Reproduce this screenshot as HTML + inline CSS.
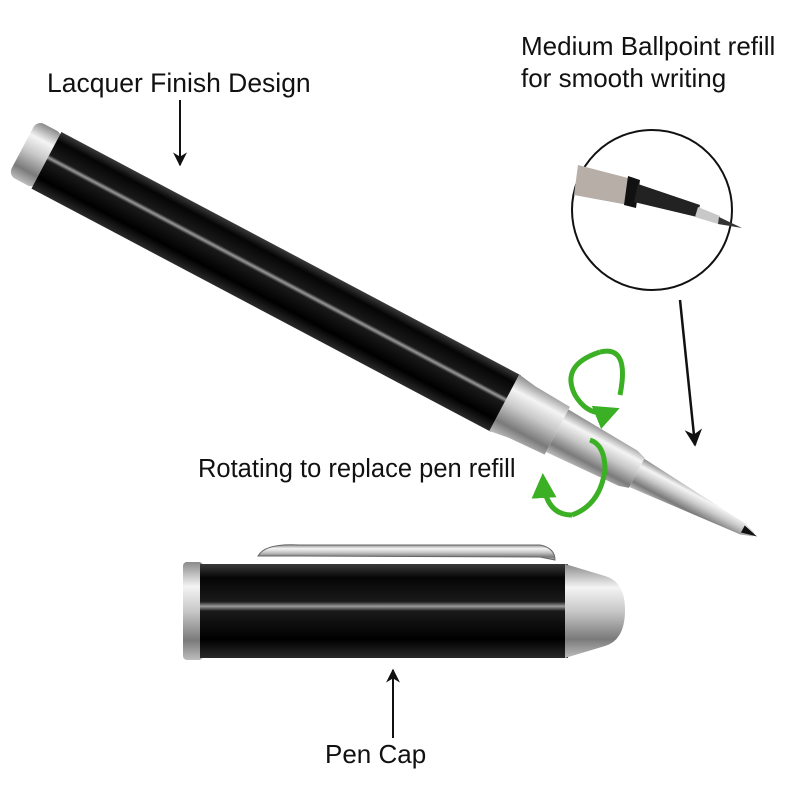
<!DOCTYPE html>
<html><head><meta charset="utf-8"><style>
html,body{margin:0;padding:0;background:#fff;}
svg{display:block;}
text{font-family:"Liberation Sans",Arial,sans-serif;fill:#111;}
</style></head><body>
<svg width="800" height="800" viewBox="0 0 800 800" xmlns="http://www.w3.org/2000/svg">
<defs>
<linearGradient id="blk" x1="0" y1="0" x2="0" y2="1">
<stop offset="0" stop-color="#3a3a3a"/><stop offset="0.15" stop-color="#050505"/>
<stop offset="0.4" stop-color="#1a1a1a"/><stop offset="0.45" stop-color="#9a9a9a"/><stop offset="0.5" stop-color="#1a1a1a"/>
<stop offset="0.8" stop-color="#000"/><stop offset="1" stop-color="#2a2a2a"/></linearGradient>
<linearGradient id="slv" x1="0" y1="0" x2="0" y2="1">
<stop offset="0" stop-color="#8a8a8a"/><stop offset="0.25" stop-color="#f4f4f4"/>
<stop offset="0.5" stop-color="#c8c8c8"/><stop offset="0.8" stop-color="#7a7a7a"/><stop offset="1" stop-color="#bdbdbd"/></linearGradient>
<marker id="ah" viewBox="0 0 10 10" refX="9" refY="5" markerWidth="7" markerHeight="7" orient="auto"><path d="M0,0 L10,5 L0,10 L3,5z" fill="#111"/></marker>
<marker id="gh" viewBox="0 0 10 10" refX="8" refY="5" markerWidth="5" markerHeight="5" orient="auto"><path d="M0,0 L10,5 L0,10z" fill="#3cb024"/></marker>
</defs>

<g transform="translate(27,150) rotate(27.9)">
<rect x="-5" y="-31" width="30" height="62" rx="8" fill="url(#slv)"/>
<rect x="22" y="-32" width="520" height="64" fill="url(#blk)"/>
<path d="M540,-32 L560,-29 L600,-27 L600,27 L560,29 L540,32z" fill="url(#slv)"/>
<path d="M600,-24 L680,-20 L690,-17 L690,17 L680,20 L600,24z" fill="url(#slv)"/>
<path d="M690,-16 L810,-6 L822,-2 L822,2 L810,6 L690,16z" fill="url(#slv)"/>
<path d="M810,-4 L826,0 L810,4z" fill="#111"/>
</g>

<path d="M258,556 Q265,543 300,545 L540,545 Q555,548 555,560 L540,557 L300,556z" fill="url(#slv)" stroke="#666" stroke-width="1"/>
<rect x="183" y="562" width="20" height="98" rx="4" fill="url(#slv)"/>
<rect x="200" y="564" width="368" height="94" fill="url(#blk)"/>
<path d="M565,564 L605,576 Q625,582 625,610 Q625,640 605,646 L565,658z" fill="url(#slv)"/>

<circle cx="652" cy="210" r="80" fill="#fff" stroke="#111" stroke-width="2"/>
<path d="M578,165 L628,178 L628,205 L574,195z" fill="#b7aea8"/>
<path d="M628,176 L640,180 L636,208 L624,205z" fill="#111"/>
<path d="M638,184 L700,205 L697,217 L634,202z" fill="#222"/>
<path d="M698,207 L720,216 L718,224 L695,217z" fill="#c8c8c8"/>
<path d="M719,217 L742,228 L718,224z" fill="#333"/>

<line x1="180" y1="100" x2="180" y2="165" stroke="#111" stroke-width="2" marker-end="url(#ah)"/>
<line x1="680" y1="300" x2="695" y2="445" stroke="#111" stroke-width="2.5" marker-end="url(#ah)"/>
<line x1="393" y1="738" x2="393" y2="670" stroke="#111" stroke-width="2" marker-end="url(#ah)"/>

<path d="M600,352 Q560,365 575,395 Q590,420 615,410" fill="none" stroke="#3cb024" stroke-width="5" marker-end="url(#gh)"/>
<path d="M600,352 Q630,345 620,395" fill="none" stroke="#3cb024" stroke-width="5"/>
<path d="M572,515 Q600,505 605,470 Q605,445 590,440" fill="none" stroke="#3cb024" stroke-width="5"/>
<path d="M572,515 Q545,515 543,478" fill="none" stroke="#3cb024" stroke-width="5" marker-end="url(#gh)"/>

<text x="47" y="92" font-size="26.5">Lacquer Finish Design</text>
<text x="521" y="55" font-size="26">Medium Ballpoint refill</text>
<text x="521" y="87" font-size="26">for smooth writing</text>
<text x="198" y="477" font-size="25.5">Rotating to replace pen refill</text>
<text x="325" y="763" font-size="26">Pen Cap</text>
</svg>
</body></html>
